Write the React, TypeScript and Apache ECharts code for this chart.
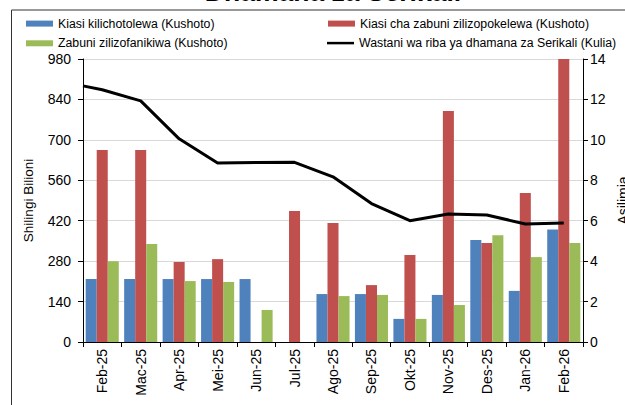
import React, { useEffect, useRef } from "react";
import * as echarts from "echarts";

const categories = ["Feb-25", "Mac-25", "Apr-25", "Mei-25", "Jun-25", "Jul-25", "Ago-25", "Sep-25", "Okt-25", "Nov-25", "Des-25", "Jan-26", "Feb-26"];
const kiasiKilichotolewa = [218, 218, 218, 218, 218, null, 166, 166, 80, 163, 353, 177, 390];
const zabuniZilizopokelewa = [665, 665, 277, 287, null, 454, 412, 197, 301, 800, 343, 516, 980];
const zabuniZilizofanikiwa = [280, 339, 211, 208, 111, null, 159, 163, 80, 128, 370, 294, 343];
const wastaniRiba = [12.48, 11.93, 10.05, 8.86, 8.88, 8.89, 8.17, 6.85, 6.0, 6.33, 6.28, 5.84, 5.89];
const wastaniRibaMwanzo = 12.67;
const leftTicks = { min: 0, max: 980, interval: 140 };
const rightTicks = { min: 0, max: 14, interval: 2 };

const names = [
  "Kiasi kilichotolewa (Kushoto)",
  "Kiasi cha zabuni zilizopokelewa (Kushoto)",
  "Zabuni zilizofanikiwa (Kushoto)",
  "Wastani wa riba ya dhamana za Serikali (Kulia)",
];
const colors = ["#4F81BD", "#C0504D", "#9BBB59", "#000000"];

const FONT = "Liberation Sans, Arial, sans-serif";

export default function App() {
  const ref = useRef<HTMLDivElement>(null);
  useEffect(() => {
    if (!ref.current) return;
    const chart = echarts.init(ref.current, null, { renderer: "svg" });
    const linePoints: [number, number][] = [[-0.5, wastaniRibaMwanzo]].concat(
      wastaniRiba.map((v, i) => [i, v] as [number, number])
    ) as [number, number][];
    const legendBase = {
      orient: "horizontal" as const,
      padding: 0,
      itemWidth: 27,
      textStyle: { fontFamily: FONT, fontSize: 12.3, color: "#000" },
      selectedMode: false,
    };
    chart.setOption({
      animation: false,
      textStyle: { fontFamily: FONT },
      graphic: [
        {
          type: "rect",
          shape: { x: 11.5, y: 10, width: 700, height: 500 },
          style: { fill: "none", stroke: "#333", lineWidth: 1 },
          silent: true,
        },
        {
          type: "text",
          x: 333,
          y: -8,
          style: {
            text: "Dhamana za Serikali",
            fontFamily: FONT,
            fontSize: 26.5,
            fontWeight: "bold",
            fill: "#000",
            align: "center",
            verticalAlign: "middle",
          },
        },
      ],
      legend: [
        { ...legendBase, left: 26, top: 17.6, itemHeight: 6, data: [{ name: names[0], icon: "rect" }] },
        { ...legendBase, left: 328, top: 17.6, itemHeight: 6, data: [{ name: names[1], icon: "rect" }] },
        { ...legendBase, left: 26, top: 37.3, itemHeight: 6, data: [{ name: names[2], icon: "rect" }] },
        { ...legendBase, left: 327, top: 37.1, itemHeight: 2.5, data: [{ name: names[3], icon: "rect" }] },
      ],
      grid: { left: 83, right: 42, top: 59, bottom: 63, containLabel: false, outerBoundsMode: "none" },
      xAxis: [
        {
          type: "category",
          data: categories,
          boundaryGap: true,
          axisLine: { onZero: false, lineStyle: { color: "#000", width: 1 } },
          axisTick: { show: true, length: 5, inside: false, lineStyle: { color: "#000" } },
          axisLabel: { rotate: 90, fontSize: 14, color: "#000", margin: 7, fontFamily: FONT, interval: 0 },
          splitLine: { show: false },
        },
        {
          type: "value",
          min: -0.5,
          max: 12.5,
          show: false,
          position: "bottom",
          axisLine: { show: false, onZero: false },
          axisTick: { show: false },
          axisLabel: { show: false },
          splitLine: { show: false },
        },
      ],
      yAxis: [
        {
          type: "value",
          ...leftTicks,
          name: "Shilingi Bilioni",
          nameLocation: "middle",
          nameGap: 48,
          nameRotate: 90,
          nameTextStyle: { fontSize: 13.5, color: "#000", fontFamily: FONT },
          axisLine: { show: true, onZero: false, lineStyle: { color: "#000", width: 1 } },
          axisTick: { show: true, length: 5, lineStyle: { color: "#000" } },
          axisLabel: { fontSize: 14, color: "#000", margin: 12, fontFamily: FONT },
          splitLine: { show: true, lineStyle: { color: "#D9D9D9", width: 1 } },
        },
        {
          type: "value",
          ...rightTicks,
          position: "right",
          name: "Asilimia",
          nameLocation: "middle",
          nameGap: 33,
          nameRotate: 90,
          nameTextStyle: { fontSize: 14, color: "#000", fontFamily: FONT },
          axisLine: { show: true, onZero: false, lineStyle: { color: "#000", width: 1 } },
          axisTick: { show: true, length: 5, lineStyle: { color: "#000" } },
          axisLabel: { fontSize: 14, color: "#000", margin: 7, fontFamily: FONT },
          splitLine: { show: false },
        },
      ],
      series: [
        {
          name: names[0],
          type: "bar",
          data: kiasiKilichotolewa,
          itemStyle: { color: colors[0] },
          barGap: "0%",
          barCategoryGap: "14%",
        },
        {
          name: names[1],
          type: "bar",
          data: zabuniZilizopokelewa,
          itemStyle: { color: colors[1] },
          barGap: "0%",
          barCategoryGap: "14%",
        },
        {
          name: names[2],
          type: "bar",
          data: zabuniZilizofanikiwa,
          itemStyle: { color: colors[2] },
          barGap: "0%",
          barCategoryGap: "14%",
        },
        {
          name: names[3],
          type: "line",
          xAxisIndex: 1,
          yAxisIndex: 1,
          data: linePoints,
          color: colors[3],
          showSymbol: false,
          symbol: "none",
          lineStyle: { color: colors[3], width: 3 },
          itemStyle: { color: colors[3] },
          z: 5,
        },
      ],
    });
    return () => chart.dispose();
  }, []);
  return (
    <div
      ref={ref}
      style={{ position: "fixed", left: 0, top: 0, width: 625, height: 405, background: "#fff" }}
    />
  );
}
